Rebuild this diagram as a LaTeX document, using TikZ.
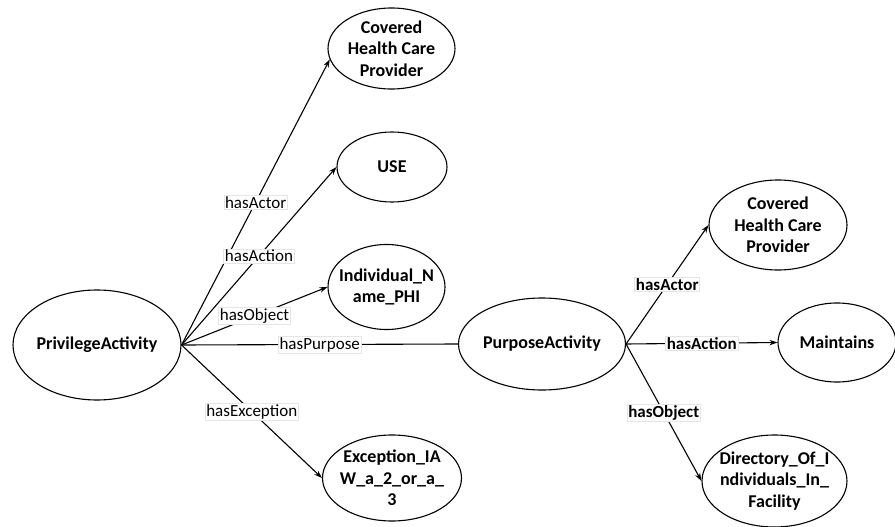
\documentclass[tikz,border=0pt]{standalone}
\usepackage{fontspec}
\setmainfont{Carlito}
\usetikzlibrary{shapes.geometric,arrows.meta}
\begin{document}
\begin{tikzpicture}[x=1pt,y=-1pt,
  concept/.style={ellipse,draw,line width=1.1pt,inner sep=0pt},
  ctext/.style={font=\fontsize{18}{21.5}\selectfont\bfseries,align=center,inner sep=0pt},
  rel/.style={line width=1.1pt},
  relarrow/.style={rel,-{Stealth[length=8pt,width=5.5pt]}},
  tag/.style={fill=white,draw=gray!20,line width=0.6pt,inner sep=1.2pt,
    font=\fontsize{17}{20}\selectfont},
  btag/.style={tag,font=\fontsize{17}{20}\selectfont\bfseries}]
\useasboundingbox (0,0) rectangle (895,527);

% privilege side
\node[concept,minimum width=168pt,minimum height=110pt,
  label={[ctext]center:PrivilegeActivity}] (pa) at (97,345) {};
\node[concept,minimum width=127pt,minimum height=81pt,
  label={[ctext]center:Covered\\Health Care\\Provider}] (c1) at (391.5,48.5) {};
\node[concept,minimum width=110pt,minimum height=70pt,
  label={[ctext]center:USE}] (use) at (392,167) {};
\node[concept,minimum width=117pt,minimum height=85pt,
  label={[ctext]center:Individual\_N\\ame\_PHI}] (ind) at (386.5,287) {};
\node[concept,minimum width=139pt,minimum height=86pt,
  label={[ctext]center:Exception\_IA\\W\_a\_2\_or\_a\_\\3}] (exc) at (392,478) {};

% purpose side
\node[concept,minimum width=167pt,minimum height=92pt,
  label={[ctext]center:PurposeActivity}] (pu) at (542,344) {};
\node[concept,minimum width=138pt,minimum height=90pt,
  label={[ctext]center:Covered\\Health Care\\Provider}] (c2) at (778,225) {};
\node[concept,minimum width=118pt,minimum height=79pt,
  label={[ctext]center:Maintains}] (mt) at (837,342.5) {};
\node[concept,minimum width=145pt,minimum height=92pt,
  label={[ctext]center:Directory\_Of\_I\\ndividuals\_In\_\\Facility}] (dir) at (774.5,481) {};

% relations of the privilege activity
\draw[relarrow] (pa.east) -- node[tag,midway] {hasActor} (c1.190);
\draw[relarrow] (pa.east) -- node[tag,midway] {hasAction} (use.west);
\draw[relarrow] (pa.east) -- node[tag,midway] {hasObject} (ind.west);
\draw[rel] (pa.east) -- node[tag,midway] {hasPurpose} (pu.west);
\draw[relarrow] (pa.east) -- node[tag,midway] {hasException} (exc.west);

% relations of the purpose activity
\draw[relarrow] (pu.east) -- node[btag,midway] {hasActor} (c2.west);
\draw[relarrow] (pu.east) -- node[btag,midway] {hasAction} (mt.west);
\draw[relarrow] (pu.east) -- node[btag,midway] {hasObject} (dir.west);
\end{tikzpicture}
\end{document}
